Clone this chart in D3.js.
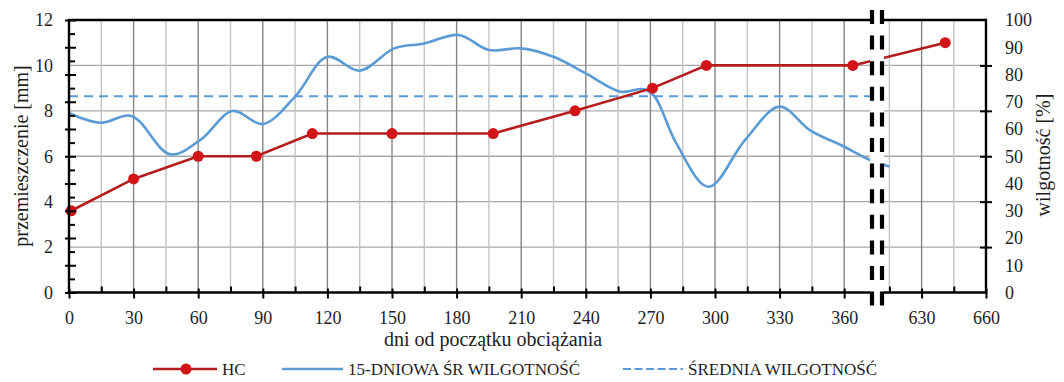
<!DOCTYPE html>
<html>
<head>
<meta charset="utf-8">
<script src="https://cdn.jsdelivr.net/npm/d3@7"></script>
<style>
  html, body { margin: 0; padding: 0; background: #fff; }
  svg { display: block; }
  text { font-family: "Liberation Serif", "Times New Roman", serif; fill: #1e1e1e; }
</style>
</head>
<body>
<svg id="chart" width="1064" height="382"></svg>
<script>
// ---------------- DATA ----------------
const hcDays   = [1, 30, 60, 87, 113, 150, 197, 235, 271, 296, 364, 641];
const hcValues = [3.6, 5, 6, 6, 7, 7, 7, 8, 9, 10, 10, 11];

const moistDays   = [0, 15, 29, 47, 61, 76, 90, 105, 120, 135, 151, 165, 181, 195, 210, 225, 240, 256, 267, 272, 282, 297, 314, 330, 344, 360, 372, 615];
const moistValues = [65.8, 62.3, 64.8, 50.7, 56, 66.6, 61.8, 71.9, 86.5, 81.4, 89.6, 91.4, 94.5, 89, 89.6, 86.5, 80.4, 73.7, 74.6, 71.9, 54.8, 38.8, 56, 68.2, 59.6, 53.5, 48.6, 46.2];

const avgMoisture = 72;
const avgDays = [0, 375];

const xTickDays   = [0, 30, 60, 90, 120, 150, 180, 210, 240, 270, 300, 330, 360, 630, 660];
const xMinorDays  = [15, 45, 75, 105, 135, 165, 195, 225, 255, 285, 315, 345, 615, 645];
const leftTicks   = [0, 2, 4, 6, 8, 10, 12];
const rightTicks  = [0, 10, 20, 30, 40, 50, 60, 70, 80, 90, 100];

const legendLabels = ["HC", "15-DNIOWA ŚR WILGOTNOŚĆ", "ŚREDNIA WILGOTNOŚĆ"];
const xTitle = "dni od początku obciążania";
const yLeftTitle = "przemieszczenie [mm]";
const yRightTitle = "wilgotność [%]";

// ---------------- LAYOUT ----------------
const L = 69, R = 986, T = 20, B = 292.5;
const breakL = 870, breakR = 884;
const red = "#b51d1d", redMarker = "#d01418", blue = "#5b9bd5";

const svg = d3.select("#chart");

const x = d3.scaleLinear().domain([0, 375, 615, 660]).range([L, 876.5, 889.4, R]);
const yL = d3.scaleLinear().domain([0, 12]).range([B, T]);
const yR = d3.scaleLinear().domain([0, 100]).range([B, T]);

// ---- grid ----
const grid = svg.append("g");
grid.selectAll("line.h").data(leftTicks.filter(v => v > 0 && v < 12)).join("line")
  .attr("x1", L).attr("x2", R).attr("y1", d => yL(d)).attr("y2", d => yL(d))
  .attr("stroke", "#a9a9a9").attr("stroke-width", 1.4);
grid.selectAll("line.vm").data(xMinorDays).join("line")
  .attr("x1", d => x(d)).attr("x2", d => x(d)).attr("y1", T).attr("y2", B)
  .attr("stroke", "#c4c4c4").attr("stroke-width", 1.4);
grid.selectAll("line.vM").data(xTickDays.filter(d => d > 0 && d < 660)).join("line")
  .attr("x1", d => x(d)).attr("x2", d => x(d)).attr("y1", T).attr("y2", B)
  .attr("stroke", "#858585").attr("stroke-width", 1.4);

// ---- average line ----
svg.append("path")
  .datum(avgDays)
  .attr("d", d3.line().x(d => x(d)).y(() => yR(avgMoisture)))
  .attr("fill", "none").attr("stroke", blue).attr("stroke-width", 2)
  .attr("stroke-dasharray", "9,6");

// ---- moisture curve ----
const moist = moistDays.map((d, i) => [d, moistValues[i]]);
svg.append("path")
  .datum(moist)
  .attr("d", d3.line().x(d => x(d[0])).y(d => yR(d[1])).curve(d3.curveCatmullRom.alpha(0.5)))
  .attr("fill", "none").attr("stroke", blue).attr("stroke-width", 2.6);

// ---- HC ----
const hc = hcDays.map((d, i) => [d, hcValues[i]]);
svg.append("path")
  .datum(hc)
  .attr("d", d3.line().x(d => x(d[0])).y(d => yL(d[1])))
  .attr("fill", "none").attr("stroke", red).attr("stroke-width", 2.6);
svg.selectAll("circle.hc").data(hc).join("circle")
  .attr("cx", d => x(d[0])).attr("cy", d => yL(d[1])).attr("r", 5.5)
  .attr("fill", redMarker);

// ---- axes lines ----
const axisW = 2.4;
const frame = svg.append("g").attr("stroke", "#000").attr("stroke-width", axisW);
frame.append("line").attr("x1", L).attr("x2", L).attr("y1", T).attr("y2", B + axisW / 2);
frame.append("line").attr("x1", R).attr("x2", R).attr("y1", T - axisW / 2).attr("y2", B + axisW / 2);
frame.append("line").attr("x1", L - axisW / 2).attr("x2", R).attr("y1", B).attr("y2", B);
frame.append("line").attr("x1", L - axisW / 2).attr("x2", R).attr("y1", T).attr("y2", T);

const tickFont = "'Liberation Serif', serif";

// bottom axis ticks & labels
const xAxis = svg.append("g").attr("transform", `translate(0,${B})`)
  .call(d3.axisBottom(x).tickValues(xTickDays).tickSize(6).tickPadding(13).tickFormat(d3.format("d")));
xAxis.select(".domain").remove();
xAxis.selectAll(".tick line").attr("y1", -4).attr("stroke", "#000").attr("stroke-width", 2);
xAxis.selectAll(".tick text").attr("font-size", 18).attr("fill", "#1e1e1e").style("font-family", tickFont);
const xMinor = svg.append("g").attr("transform", `translate(0,${B})`)
  .call(d3.axisBottom(x).tickValues(xMinorDays).tickSize(-6).tickFormat(""));
xMinor.select(".domain").remove();
xMinor.selectAll(".tick line").attr("stroke", "#000").attr("stroke-width", 2);

// left axis: labels on left scale, ticks on right scale
const yLeftLab = svg.append("g").attr("transform", `translate(${L},0)`)
  .call(d3.axisLeft(yL).tickValues(leftTicks).tickSize(0).tickPadding(16));
yLeftLab.select(".domain").remove();
yLeftLab.selectAll(".tick text").attr("font-size", 18).attr("fill", "#1e1e1e").style("font-family", tickFont);
const yLeftMaj = svg.append("g").attr("transform", `translate(${L},0)`)
  .call(d3.axisLeft(yR).tickValues(rightTicks).tickSize(4).tickFormat(""));
yLeftMaj.select(".domain").remove();
yLeftMaj.selectAll(".tick line").attr("x2", 7).attr("x1", -4).attr("stroke", "#000").attr("stroke-width", 2);
const yLeftMin = svg.append("g").attr("transform", `translate(${L},0)`)
  .call(d3.axisLeft(yR).tickValues(d3.range(5, 100, 10)).tickSize(-6).tickFormat(""));
yLeftMin.select(".domain").remove();
yLeftMin.selectAll(".tick line").attr("stroke", "#000").attr("stroke-width", 2);

// right axis: labels on right scale, ticks on left scale
const yRightLab = svg.append("g").attr("transform", `translate(${R},0)`)
  .call(d3.axisRight(yR).tickValues(rightTicks).tickSize(0).tickPadding(19));
yRightLab.select(".domain").remove();
yRightLab.selectAll(".tick text").attr("font-size", 18).attr("fill", "#1e1e1e").style("font-family", tickFont);
const yRightTk = svg.append("g").attr("transform", `translate(${R},0)`)
  .call(d3.axisRight(yL).tickValues(leftTicks.filter(v => v > 0 && v < 12)).tickSize(6).tickFormat(""));
yRightTk.select(".domain").remove();
yRightTk.selectAll(".tick line").attr("x1", -6).attr("stroke", "#000").attr("stroke-width", 2);

// ---- axis break ----
svg.append("rect").attr("x", breakL).attr("y", 6).attr("width", breakR - breakL).attr("height", 306)
  .attr("fill", "#fff");
[872, 882].forEach(bx => {
  svg.append("line").attr("x1", bx).attr("x2", bx).attr("y1", 10).attr("y2", 307)
    .attr("stroke", "#000").attr("stroke-width", 4.2).attr("stroke-dasharray", "14,11.6");
});

// ---- titles ----
svg.append("text").attr("x", 493).attr("y", 346).attr("text-anchor", "middle")
  .attr("font-size", 20).text(xTitle);
svg.append("text").attr("transform", `translate(28,156) rotate(-90)`).attr("text-anchor", "middle")
  .attr("font-size", 20).text(yLeftTitle);
svg.append("text").attr("transform", `translate(1050,155) rotate(-90)`).attr("text-anchor", "middle")
  .attr("font-size", 20).text(yRightTitle);

// ---- legend ----
const ly = 369;
const lg = svg.append("g");
lg.append("line").attr("x1", 153).attr("x2", 217).attr("y1", ly).attr("y2", ly)
  .attr("stroke", red).attr("stroke-width", 2.6);
lg.append("circle").attr("cx", 186).attr("cy", ly).attr("r", 5.5).attr("fill", redMarker);
lg.append("text").attr("x", 222).attr("y", ly + 6).attr("font-size", 17).text(legendLabels[0]);
lg.append("line").attr("x1", 282).attr("x2", 343).attr("y1", ly).attr("y2", ly)
  .attr("stroke", blue).attr("stroke-width", 2.6);
lg.append("text").attr("x", 348).attr("y", ly + 6).attr("font-size", 17).text(legendLabels[1]);
lg.append("line").attr("x1", 623).attr("x2", 683).attr("y1", ly).attr("y2", ly)
  .attr("stroke", blue).attr("stroke-width", 2).attr("stroke-dasharray", "8,3.5");
lg.append("text").attr("x", 688).attr("y", ly + 6).attr("font-size", 17).text(legendLabels[2]);
</script>
</body>
</html>
